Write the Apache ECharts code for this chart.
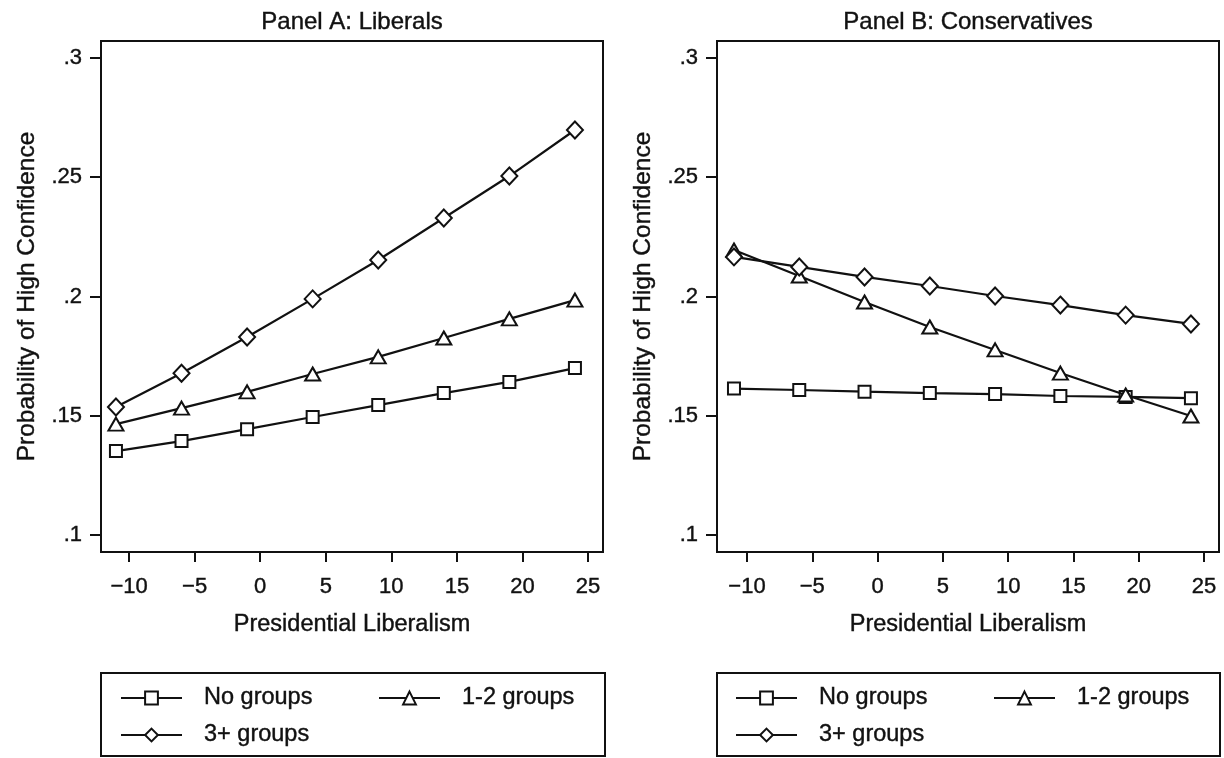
<!DOCTYPE html>
<html>
<head>
<meta charset="utf-8">
<script src="https://cdn.jsdelivr.net/npm/echarts@6/dist/echarts.min.js"></script>
<style>
html,body{margin:0;padding:0;background:#fff;}
#chart{width:1224px;height:758px;}
</style>
</head>
<body>
<div id="chart"></div>
<script>
// ---- data ----
const xValues = [-11, -6, -1, 4, 9, 14, 19, 24];
const seriesNames = ['No groups', '1-2 groups', '3+ groups'];
const liberalsNone  = [0.1352, 0.1394, 0.1444, 0.1495, 0.1545, 0.1595, 0.1642, 0.1700];
const liberalsFew   = [0.1465, 0.1532, 0.1600, 0.1675, 0.1747, 0.1826, 0.1906, 0.1985];
const liberalsMany  = [0.1537, 0.1678, 0.1830, 0.1990, 0.2153, 0.2329, 0.2505, 0.2698];
const consNone      = [0.1614, 0.1608, 0.1601, 0.1595, 0.1591, 0.1583, 0.1579, 0.1574];
const consFew       = [0.2195, 0.2086, 0.1977, 0.1872, 0.1776, 0.1679, 0.1587, 0.1499];
const consMany      = [0.2166, 0.2124, 0.2082, 0.2044, 0.2002, 0.1964, 0.1922, 0.1885];
const xTicks = [-10, -5, 0, 5, 10, 15, 20, 25];
const xTickLabels = ['\u221210', '\u22125', '0', '5', '10', '15', '20', '25'];
const yTicks = [0.1, 0.15, 0.2, 0.25, 0.3];
const yTickLabels = ['.1', '.15', '.2', '.25', '.3'];
const panelTitles = ['Panel A: Liberals', 'Panel B: Conservatives'];
const xTitle = 'Presidential Liberalism';
const yTitle = 'Probability of High Confidence';

// ---- styling ----
const FONT = '"Liberation Sans", Arial, Helvetica, sans-serif';
const INK = '#111';
const HEAVY = {textBorderColor: '#111', textBorderWidth: 0.4};
const symbols = ['emptyRect', 'emptyTriangle', 'emptyDiamond'];
const symbolSizes = [12, [15, 13], [16, 17]];

function lookup(ticks, labels) {
  return function (v) {
    for (let i = 0; i < ticks.length; i++) {
      if (Math.abs(ticks[i] - v) < 1e-9) return labels[i];
    }
    return '';
  };
}

const grids = [
  {left: 101, top: 41, width: 502, height: 511, xMin: -12.14, xMax: 26.14},
  {left: 717, top: 41, width: 502, height: 511, xMin: -12.3, xMax: 26.15}
];

const option = {
  backgroundColor: '#fff',
  animation: false,
  textStyle: {fontFamily: FONT, color: INK},
  title: grids.map((g, i) => ({
    text: panelTitles[i],
    left: g.left + g.width / 2,
    top: 9,
    padding: 0,
    textAlign: 'center',
    textVerticalAlign: 'top',
    textStyle: Object.assign({fontFamily: FONT, fontSize: 24, fontWeight: 'normal', color: INK, lineHeight: 26}, HEAVY)
  })),
  grid: grids.map(g => ({
    left: g.left, top: g.top, width: g.width, height: g.height,
    show: true, borderColor: INK, borderWidth: 2, backgroundColor: '#fff',
    containLabel: false
  })),
  xAxis: grids.map((g, i) => ({
    type: 'value', gridIndex: i, min: g.xMin, max: g.xMax,
    name: xTitle, nameLocation: 'middle', nameGap: 61,
    nameTextStyle: Object.assign({fontFamily: FONT, fontSize: 23.5, color: INK}, HEAVY),
    axisLine: {show: false, onZero: false},
    splitLine: {show: false},
    axisTick: {show: true, inside: false, length: 10, customValues: xTicks,
      lineStyle: {color: INK, width: 2}},
    axisLabel: Object.assign({show: true, margin: 24, customValues: xTicks,
      formatter: lookup(xTicks, xTickLabels),
      fontFamily: FONT, fontSize: 22, color: INK}, HEAVY)
  })),
  yAxis: grids.map((g, i) => ({
    type: 'value', gridIndex: i, min: 0.0929, max: 0.3071,
    name: yTitle, nameLocation: 'middle', nameGap: 61, nameRotate: 90,
    nameTextStyle: Object.assign({fontFamily: FONT, fontSize: 24.5, color: INK}, HEAVY),
    axisLine: {show: false, onZero: false},
    splitLine: {show: false},
    axisTick: {show: true, inside: false, length: 11, customValues: yTicks,
      lineStyle: {color: INK, width: 2}},
    axisLabel: Object.assign({show: true, margin: 19, customValues: yTicks,
      formatter: lookup(yTicks, yTickLabels),
      fontFamily: FONT, fontSize: 22, color: INK}, HEAVY)
  })),
  legend: grids.map((g, i) => ({
    left: g.left,
    top: 673,
    width: 520,
    orient: 'horizontal',
    padding: [10, 23, 6, i === 0 ? 19 : 18],
    itemGap: 7,
    itemWidth: 61,
    itemHeight: 16,
    borderColor: INK,
    borderWidth: 2,
    borderRadius: 0,
    selectedMode: false,
    textStyle: Object.assign({fontFamily: FONT, fontSize: 23.5, color: INK, lineHeight: 30, padding: [0, 0, 0, 17]}, HEAVY),
    data: [
      {name: seriesNames[0], textStyle: {width: 167}},
      {name: seriesNames[1], textStyle: {width: 120}},
      {name: seriesNames[2], textStyle: {width: 167}}
    ]
  })),
  series: []
};

const panelData = [[liberalsNone, liberalsFew, liberalsMany], [consNone, consFew, consMany]];
panelData.forEach((sets, gi) => {
  sets.forEach((vals, si) => {
    option.series.push({
      type: 'line',
      name: seriesNames[si],
      xAxisIndex: gi,
      yAxisIndex: gi,
      data: xValues.map((x, k) => [x, vals[k]]),
      symbol: symbols[si],
      symbolSize: symbolSizes[si],
      showAllSymbol: true,
      lineStyle: {color: INK, width: 2.2},
      itemStyle: {color: INK, borderColor: INK, borderWidth: 2.2},
      emphasis: {disabled: true},
      z: 2 + si
    });
  });
});

const chart = echarts.init(document.getElementById('chart'), null, {renderer: 'canvas'});
chart.setOption(option);
</script>
</body>
</html>
